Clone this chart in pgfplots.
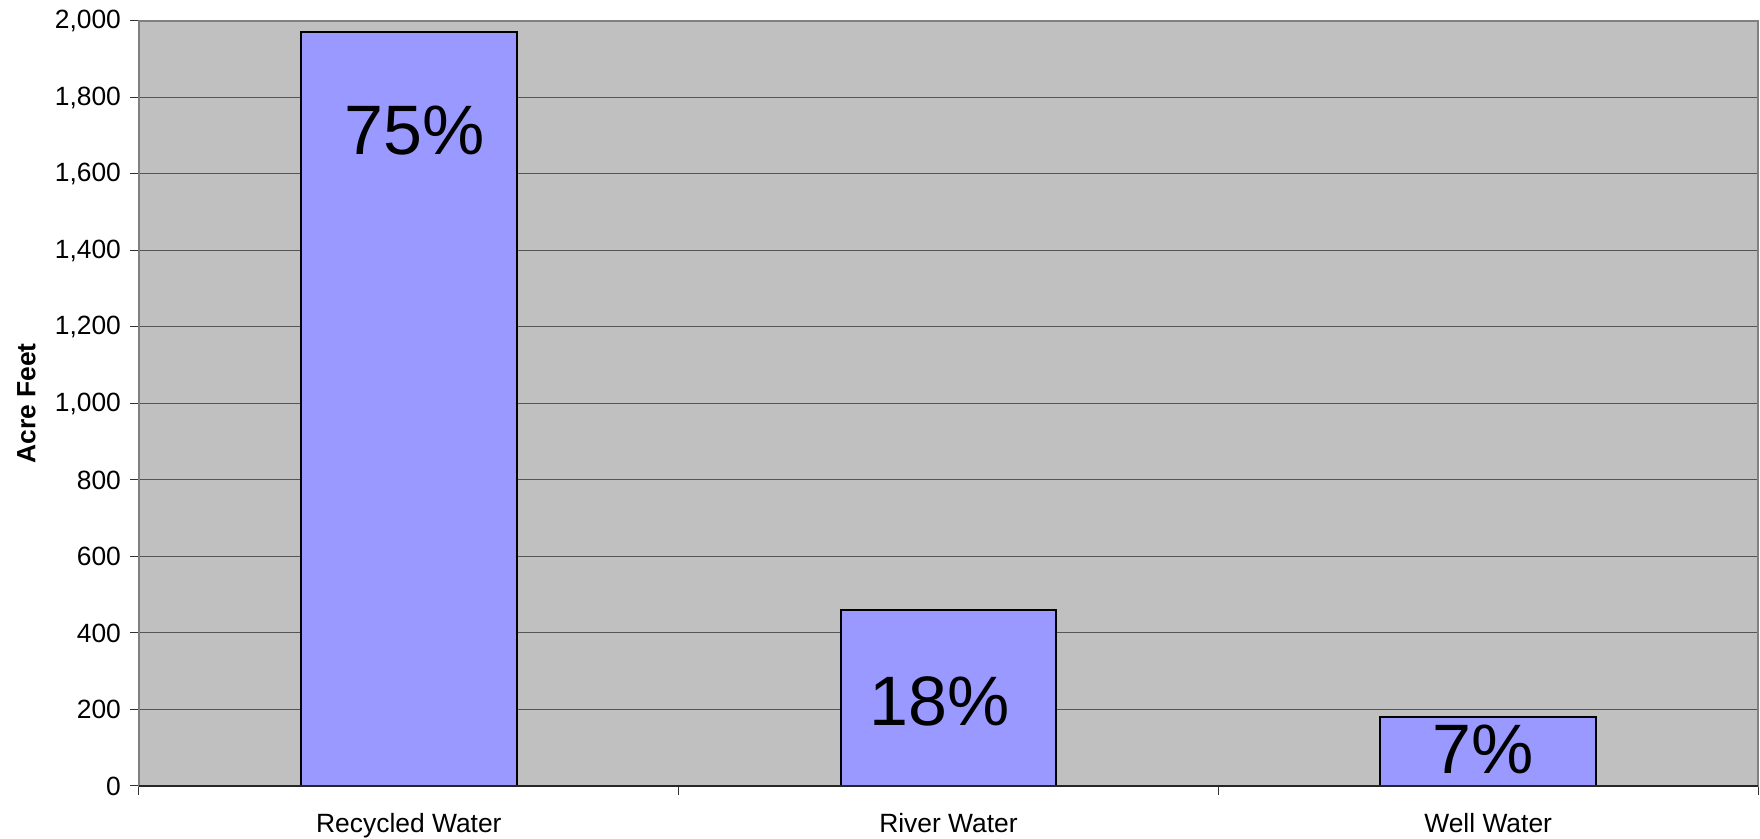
\documentclass[border=0pt]{standalone}
\usepackage{fontspec}
\setmainfont{Liberation Sans}
\usepackage{pgfplots}
\pgfplotsset{compat=1.18}
\definecolor{plotbg}{HTML}{C0C0C0}
\definecolor{barfill}{HTML}{9999FF}
\definecolor{gridc}{HTML}{555555}
\begin{document}
\begin{tikzpicture}
\begin{axis}[
  at={(0,0)}, anchor=south west,
  scale only axis,
  width=809.5pt, height=382.5pt,
  xmin=-0.5, xmax=2.5, ymin=0, ymax=2000,
  axis background/.style={fill=plotbg},
  axis line style={draw=gray, line width=0.6pt},
  ytick={0,200,...,2000},
  ymajorgrids,
  major grid style={draw=gridc, line width=0.5pt},
  tick align=outside,
  tick pos=left,
  major tick length=4.5pt,
  tick style={draw=black!80, line width=0.5pt},
  xtick={-0.5,0.5,1.5,2.5},
  xticklabels={},
  extra x ticks={0,1,2},
  extra x tick labels={Recycled Water,River Water,Well Water},
  extra x tick style={major tick length=0pt, grid=none},
  xticklabel style={font=\fontsize{13.2}{15}\selectfont, yshift=-10pt},
  yticklabel style={font=\fontsize{13.2}{15}\selectfont, xshift=-1pt},
  /pgf/number format/assume math mode=true,
  /pgf/number format/1000 sep={,},
  every axis y label/.style={at={(axis description cs:-0.0696,0.5)}, rotate=90, anchor=center},
  ylabel={\fontsize{13.2}{15}\selectfont\bfseries Acre Feet},
  clip=false,
]
\addplot[ybar, bar width=0.4, fill=barfill, draw=black, line width=1pt]
  coordinates {(0,1970) (1,461) (2,181)};
\node[font=\fontsize{35}{40}\selectfont] at (axis cs:0.011,1713) {75\%};
\node[font=\fontsize{35}{40}\selectfont] at (axis cs:0.984,220) {18\%};
\node[font=\fontsize{35}{40}\selectfont] at (axis cs:1.990,95) {7\%};
\draw[black!85, line width=0.8pt] (axis cs:-0.5,0) -- (axis cs:2.5,0);
\end{axis}
\pgfresetboundingbox
\path[use as bounding box] (-69.5pt,-26.5pt) rectangle (810.5pt,393pt);
\end{tikzpicture}
\end{document}
